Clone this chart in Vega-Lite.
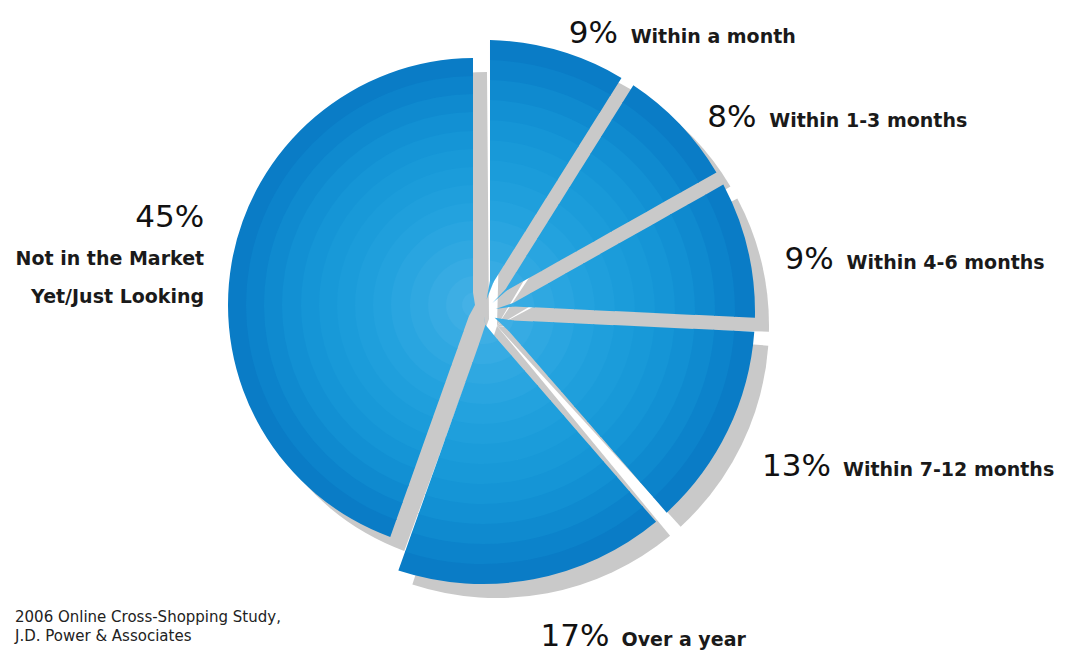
{
  "$schema": "https://vega.github.io/schema/vega-lite/v6.json",
  "autosize": "none",
  "padding": {"left": 0, "top": 0, "right": 106, "bottom": 28},
  "width": 966,
  "height": 624,
  "background": "#ffffff",
  "config": {"view": {"stroke": null}},
  "title": {
    "text": ["2006 Online Cross-Shopping Study,", "J.D. Power & Associates"],
    "orient": "bottom",
    "anchor": "start",
    "frame": "group",
    "baseline": "top",
    "offset": -15,
    "dy": -27,
    "dx": 15,
    "font": "DejaVu Sans, sans-serif",
    "fontSize": 15,
    "fontWeight": "normal",
    "lineHeight": 19,
    "color": "#222222"
  },
  "data": {
    "values": [
      {"idx": 1, "cat": "Within a month", "value": 9, "pct": "9%"},
      {"idx": 2, "cat": "Within 1-3 months", "value": 8, "pct": "8%"},
      {"idx": 3, "cat": "Within 4-6 months", "value": 9, "pct": "9%"},
      {"idx": 4, "cat": "Within 7-12 months", "value": 13, "pct": "13%"},
      {"idx": 5, "cat": "Over a year", "value": 17, "pct": "17%"},
      {"idx": 6, "cat": "Not in the Market\nYet/Just Looking", "value": 45, "pct": "45%"}
    ]
  },
  "encoding": {
    "theta": {"field": "value", "type": "quantitative", "stack": true},
    "order": {"field": "idx", "type": "quantitative"}
  },
  "layer": [
    {"mark": {"type": "arc", "fill": "#c9c9c9", "radius": {"expr": "datum.value > 40 ? 247 : 272"}, "radius2": 0, "padAngle": {"expr": "datum.value > 40 ? 0.0162 : 0.0515"}, "xOffset": {"expr": "datum.value > 40 ? 6 : 14"}, "yOffset": {"expr": "datum.value > 40 ? 7 : 14"}}},
    {"mark": {"type": "arc", "fill": "#0a7cc6", "radius": {"expr": "datum.value > 40 ? 247 : 272"}, "radius2": {"expr": "datum.value > 40 ? 228 : 251"}, "padAngle": {"expr": "datum.value > 40 ? 0.0119 : 0.0378"}, "xOffset": {"expr": "datum.value > 40 ? -8 : 0"}, "yOffset": {"expr": "datum.value > 40 ? -7 : 0"}}},
    {"mark": {"type": "arc", "fill": "#0c83cb", "radius": {"expr": "datum.value > 40 ? 229 : 252"}, "radius2": {"expr": "datum.value > 40 ? 210 : 231"}, "padAngle": {"expr": "datum.value > 40 ? 0.0129 : 0.0410"}, "xOffset": {"expr": "datum.value > 40 ? -8 : 0"}, "yOffset": {"expr": "datum.value > 40 ? -7 : 0"}}},
    {"mark": {"type": "arc", "fill": "#0f8acf", "radius": {"expr": "datum.value > 40 ? 211 : 232"}, "radius2": {"expr": "datum.value > 40 ? 192 : 211"}, "padAngle": {"expr": "datum.value > 40 ? 0.0141 : 0.0447"}, "xOffset": {"expr": "datum.value > 40 ? -8 : 0"}, "yOffset": {"expr": "datum.value > 40 ? -7 : 0"}}},
    {"mark": {"type": "arc", "fill": "#1290d3", "radius": {"expr": "datum.value > 40 ? 193 : 212"}, "radius2": {"expr": "datum.value > 40 ? 173 : 191"}, "padAngle": {"expr": "datum.value > 40 ? 0.0154 : 0.0491"}, "xOffset": {"expr": "datum.value > 40 ? -8 : 0"}, "yOffset": {"expr": "datum.value > 40 ? -7 : 0"}}},
    {"mark": {"type": "arc", "fill": "#1595d6", "radius": {"expr": "datum.value > 40 ? 174 : 192"}, "radius2": {"expr": "datum.value > 40 ? 155 : 171"}, "padAngle": {"expr": "datum.value > 40 ? 0.0171 : 0.0545"}, "xOffset": {"expr": "datum.value > 40 ? -8 : 0"}, "yOffset": {"expr": "datum.value > 40 ? -7 : 0"}}},
    {"mark": {"type": "arc", "fill": "#1899d8", "radius": {"expr": "datum.value > 40 ? 156 : 172"}, "radius2": {"expr": "datum.value > 40 ? 137 : 151"}, "padAngle": {"expr": "datum.value > 40 ? 0.0193 : 0.0612"}, "xOffset": {"expr": "datum.value > 40 ? -8 : 0"}, "yOffset": {"expr": "datum.value > 40 ? -7 : 0"}}},
    {"mark": {"type": "arc", "fill": "#1b9cda", "radius": {"expr": "datum.value > 40 ? 138 : 152"}, "radius2": {"expr": "datum.value > 40 ? 119 : 131"}, "padAngle": {"expr": "datum.value > 40 ? 0.0220 : 0.0698"}, "xOffset": {"expr": "datum.value > 40 ? -8 : 0"}, "yOffset": {"expr": "datum.value > 40 ? -7 : 0"}}},
    {"mark": {"type": "arc", "fill": "#1f9fdc", "radius": {"expr": "datum.value > 40 ? 120 : 132"}, "radius2": {"expr": "datum.value > 40 ? 101 : 111"}, "padAngle": {"expr": "datum.value > 40 ? 0.0255 : 0.0812"}, "xOffset": {"expr": "datum.value > 40 ? -8 : 0"}, "yOffset": {"expr": "datum.value > 40 ? -7 : 0"}}},
    {"mark": {"type": "arc", "fill": "#23a2de", "radius": {"expr": "datum.value > 40 ? 102 : 112"}, "radius2": {"expr": "datum.value > 40 ? 83 : 91"}, "padAngle": {"expr": "datum.value > 40 ? 0.0305 : 0.0971"}, "xOffset": {"expr": "datum.value > 40 ? -8 : 0"}, "yOffset": {"expr": "datum.value > 40 ? -7 : 0"}}},
    {"mark": {"type": "arc", "fill": "#29a5e0", "radius": {"expr": "datum.value > 40 ? 84 : 92"}, "radius2": {"expr": "datum.value > 40 ? 64 : 71"}, "padAngle": {"expr": "datum.value > 40 ? 0.0379 : 0.1206"}, "xOffset": {"expr": "datum.value > 40 ? -8 : 0"}, "yOffset": {"expr": "datum.value > 40 ? -7 : 0"}}},
    {"mark": {"type": "arc", "fill": "#2fa8e1", "radius": {"expr": "datum.value > 40 ? 65 : 72"}, "radius2": {"expr": "datum.value > 40 ? 46 : 51"}, "padAngle": {"expr": "datum.value > 40 ? 0.0500 : 0.1589"}, "xOffset": {"expr": "datum.value > 40 ? -8 : 0"}, "yOffset": {"expr": "datum.value > 40 ? -7 : 0"}}},
    {"mark": {"type": "arc", "fill": "#36abe3", "radius": {"expr": "datum.value > 40 ? 47 : 52"}, "radius2": {"expr": "datum.value > 40 ? 28 : 31"}, "padAngle": {"expr": "datum.value > 40 ? 0.0729 : 0.2319"}, "xOffset": {"expr": "datum.value > 40 ? -8 : 0"}, "yOffset": {"expr": "datum.value > 40 ? -7 : 0"}}},
    {"mark": {"type": "arc", "fill": "#3daee4", "radius": {"expr": "datum.value > 40 ? 29 : 32"}, "radius2": {"expr": "datum.value > 40 ? 12 : 13"}, "padAngle": {"expr": "datum.value > 40 ? 0.1280 : 0.4086"}, "xOffset": {"expr": "datum.value > 40 ? -8 : 0"}, "yOffset": {"expr": "datum.value > 40 ? -7 : 0"}}},
    {"mark": {"type": "arc", "fill": "#44b1e6", "radius": {"expr": "datum.value > 40 ? 13 : 14"}, "radius2": 0, "padAngle": {"expr": "datum.value > 40 ? 0.3166 : 1.0472"}, "xOffset": {"expr": "datum.value > 40 ? -8 : 0"}, "yOffset": {"expr": "datum.value > 40 ? -7 : 0"}}},
    {
      "mark": {"type": "text", "radius": 310, "align": "left", "baseline": "alphabetic", "dy": 29, "font": "DejaVu Sans, sans-serif", "fontSize": 31, "color": "#111111"},
      "encoding": {"text": {"condition": {"test": "datum.value > 40", "value": ""}, "field": "pct", "type": "nominal"}}
    },
    {
      "mark": {"type": "text", "radius": 310, "align": "left", "baseline": "alphabetic", "dy": 29, "dx": 62, "font": "DejaVu Sans, sans-serif", "fontWeight": "bold", "fontSize": 19, "color": "#1a1a1a"},
      "encoding": {"text": {"condition": {"test": "datum.value >= 10", "value": ""}, "field": "cat", "type": "nominal"}}
    },
    {
      "mark": {"type": "text", "radius": 310, "align": "left", "baseline": "alphabetic", "dy": 29, "dx": 81, "font": "DejaVu Sans, sans-serif", "fontWeight": "bold", "fontSize": 19, "color": "#1a1a1a"},
      "encoding": {"text": {"condition": {"test": "datum.value < 10 || datum.value > 40", "value": ""}, "field": "cat", "type": "nominal"}}
    },
    {
      "mark": {"type": "text", "radius": 283, "align": "right", "baseline": "alphabetic", "dy": -37, "font": "DejaVu Sans, sans-serif", "fontSize": 31, "color": "#111111"},
      "encoding": {"text": {"condition": {"test": "datum.value < 40", "value": ""}, "field": "pct", "type": "nominal"}}
    },
    {
      "mark": {"type": "text", "radius": 283, "align": "right", "baseline": "alphabetic", "dy": 1, "lineBreak": "\n", "lineHeight": 38, "font": "DejaVu Sans, sans-serif", "fontWeight": "bold", "fontSize": 19, "color": "#1a1a1a"},
      "encoding": {"text": {"condition": {"test": "datum.value < 40", "value": ""}, "field": "cat", "type": "nominal"}}
    }
  ]
}
